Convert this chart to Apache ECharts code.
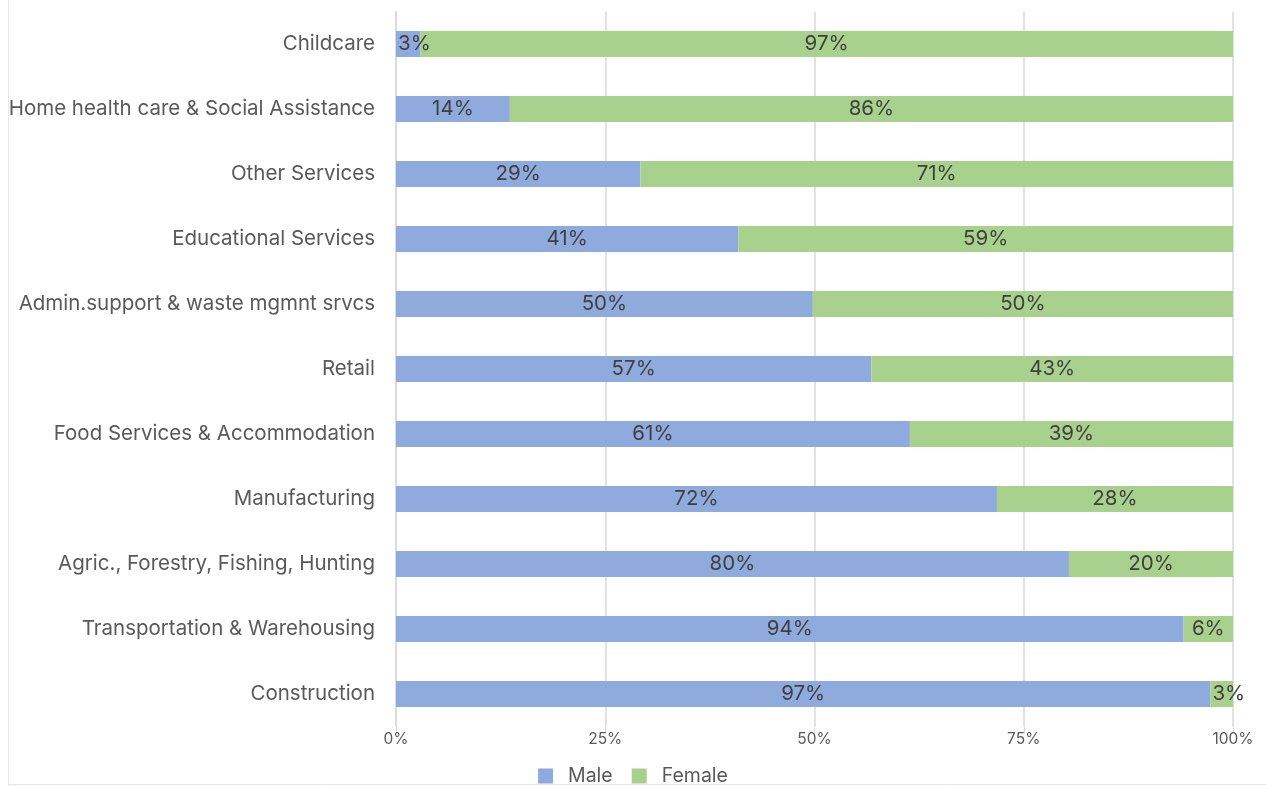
<!DOCTYPE html>
<html><head><meta charset="utf-8">
<script src="https://cdn.jsdelivr.net/npm/echarts@6/dist/echarts.min.js"></script>
<style>html,body{margin:0;padding:0;background:#fff}#c{width:1266px;height:786px}</style>
</head><body><div id="c"></div>
<script>
const categories = ["Childcare","Home health care & Social Assistance","Other Services","Educational Services","Admin.support & waste mgmnt srvcs","Retail","Food Services & Accommodation","Manufacturing","Agric., Forestry, Fishing, Hunting","Transportation & Warehousing","Construction"];
const male = [2.9,13.6,29.2,40.9,49.8,56.8,61.4,71.8,80.4,94.1,97.3];
const female = male.map(v => +(100 - v).toFixed(1));
const xTicks = ["0%","25%","50%","75%","100%"];

const FONT = "Inter";
const chart = echarts.init(document.getElementById('c'));
const lbl = {show:true, position:'inside', color:'#404040', fontSize:20.5, fontFamily:FONT, formatter:p => Math.round(p.value)+'%'};
const toData = arr => arr.map(v => v < 5 ? {value:v, label:{position:'insideLeft', distance:2}} : v);
chart.setOption({
  animation:false,
  grid:{left:396, right:33, top:11.5, bottom:59.5},
  xAxis:{type:'value', min:0, max:100, interval:25,
    axisLine:{show:false}, axisTick:{show:true, length:7, lineStyle:{color:'#d9d9d9'}},
    splitLine:{lineStyle:{color:'#d9d9d9', width:1.5}},
    axisLabel:{color:'#595959', fontSize:15.5, fontFamily:FONT, margin:5, formatter:(v)=>xTicks[v/25]}},
  yAxis:{type:'category', data:categories, inverse:true,
    axisLine:{show:true, lineStyle:{color:'#d9d9d9', width:1.5}}, axisTick:{show:false},
    axisLabel:{color:'#595959', fontSize:20.5, fontFamily:FONT, margin:21, padding:[2,0,0,0]}},
  legend:{bottom:-5, left:'center', itemWidth:15, itemHeight:15, itemGap:19, icon:'rect',
    textStyle:{color:'#595959', fontSize:19.5, fontFamily:FONT, padding:[0,0,0,10]}},
  series:[
    {name:'Male', type:'bar', stack:'s', data:toData(male), barWidth:'40%', itemStyle:{color:'#8faadc'}, label:lbl},
    {name:'Female', type:'bar', stack:'s', data:toData(female), barWidth:'40%', itemStyle:{color:'#a9d18e'}, label:lbl}
  ],
  graphic:[
    {type:'line', shape:{x1:8.5,y1:0,x2:8.5,y2:786}, style:{stroke:'#e6e6e6', lineWidth:1}},
    {type:'line', shape:{x1:8,y1:784.5,x2:1266,y2:784.5}, style:{stroke:'#e6e6e6', lineWidth:1}}
  ]
});
</script></body></html>
